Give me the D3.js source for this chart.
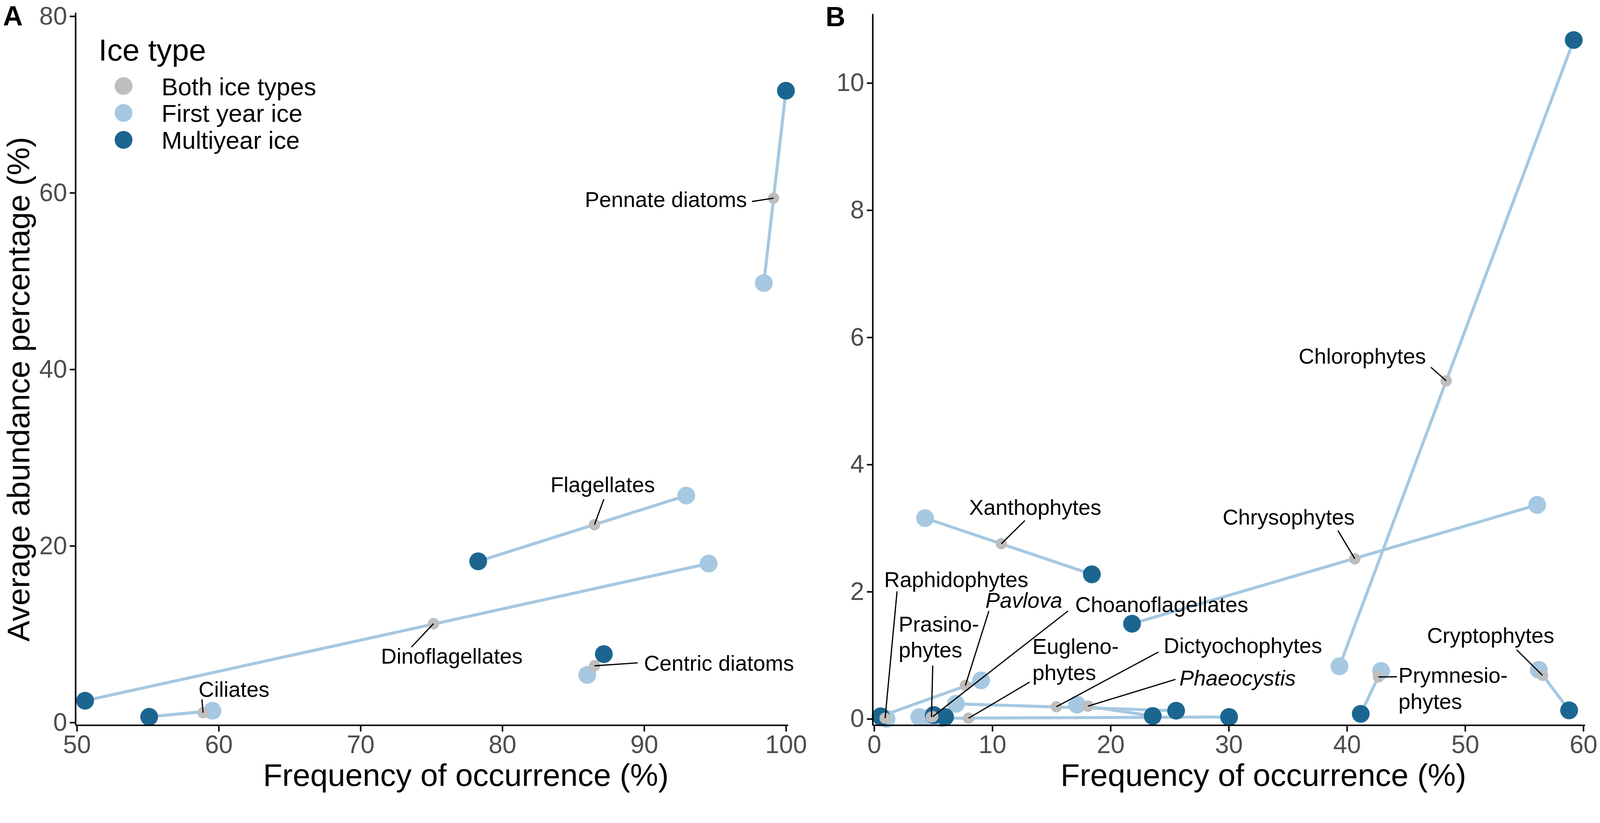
<!DOCTYPE html>
<html>
<head>
<meta charset="utf-8">
<script src="https://cdn.jsdelivr.net/npm/d3@7"></script>
<style>
html, body { margin: 0; padding: 0; width: 100%; height: 100%; overflow: hidden; background: #fff; }
svg { display: block; }
text { font-family: "Liberation Sans", Arial, Helvetica, sans-serif; }
</style>
</head>
<body>
<svg viewBox="0 0 4221 2107" preserveAspectRatio="xMinYMin meet" width="100%" height="100%"></svg>
<script>
// legend
const iceTypes = ["Both ice types", "First year ice", "Multiyear ice"];
const iceColors = ["#BEBEBE", "#A6C8E1", "#1B6690"];

// panel A : frequency of occurrence (%) / average abundance (%)
const groupsA  = ["Pennate diatoms", "Flagellates", "Dinoflagellates", "Centric diatoms", "Ciliates"];
const fyiFreqA = [98.44, 92.97, 94.55, 85.99, 59.56];
const fyiAbunA = [49.77, 25.70, 18.00,  5.38,  1.33];
const myiFreqA = [100.0, 78.30, 50.58, 87.16, 55.10];
const myiAbunA = [71.56, 18.25,  2.46,  7.74,  0.64];
const bothFreqA = [99.13, 86.50, 75.15, 86.50, 58.90];
const bothAbunA = [59.39, 22.40, 11.19,  6.42,  1.10];

// panel B
const groupsB  = ["Raphidophytes", "Prasinophytes", "Pavlova", "Choanoflagellates", "Euglenophytes",
                  "Dictyochophytes", "Phaeocystis", "Xanthophytes", "Chrysophytes", "Chlorophytes",
                  "Cryptophytes", "Prymnesiophytes"];
const fyiFreqB = [1.05, 3.82, 9.05, 4.70, 5.70, 6.92, 17.17, 4.31, 56.10, 39.37, 56.23, 42.89];
const fyiAbunB = [0.00, 0.03, 0.605, 0.02, 0.01, 0.237, 0.223, 3.157, 3.365, 0.826, 0.772, 0.753];
const myiFreqB = [0.60, 6.00, 0.55, 5.05, 30.03, 25.55, 23.57, 18.42, 21.82, 59.19, 58.80, 41.17];
const myiAbunB = [0.03, 0.03, 0.04, 0.06, 0.03, 0.128, 0.045, 2.273, 1.496, 10.675, 0.134, 0.079];
const bothFreqB = [0.93, 4.85, 7.72, 4.95, 7.99, 15.42, 18.10, 10.76, 40.67, 48.40, 56.55, 42.67];
const bothAbunB = [0.01, 0.03, 0.525, 0.035, 0.01, 0.19, 0.20, 2.754, 2.517, 5.316, 0.684, 0.659];

// axis ticks
const xTicksA = [50, 60, 70, 80, 90, 100];
const yTicksA = [0, 20, 40, 60, 80];
const xTicksB = [0, 10, 20, 30, 40, 50, 60];
const yTicksB = [0, 2, 4, 6, 8, 10];

// label placement (data units): text anchor point, leader start
const labelsA = [
  {name: "Pennate diatoms", lines: ["Pennate diatoms"], x: 97.25, y: 58.39, anchor: "end",    sx: 97.61, sy: 59.01},
  {name: "Flagellates",     lines: ["Flagellates"],     x: 87.08, y: 26.08, anchor: "middle", sx: 87.16, sy: 25.29},
  {name: "Dinoflagellates", lines: ["Dinoflagellates"], x: 76.44, y: 6.655, anchor: "middle", sx: 73.59, sy: 8.53},
  {name: "Centric diatoms", lines: ["Centric diatoms"], x: 89.99, y: 5.87,  anchor: "start",  sx: 89.55, sy: 6.75},
  {name: "Ciliates",        lines: ["Ciliates"],        x: 61.08, y: 2.91,  anchor: "middle", sx: 58.82, sy: 2.62}
];
const labelsB = [
  {name: "Xanthophytes",      lines: ["Xanthophytes"],      x: 13.63, y: 3.209, anchor: "middle", sx: 12.75, sy: 3.118},
  {name: "Raphidophytes",     lines: ["Raphidophytes"],     x: 6.95,  y: 2.075, anchor: "middle", sx: 1.94,  sy: 2.005},
  {name: "Pavlova",           lines: ["Pavlova"],           x: 12.67, y: 1.749, anchor: "middle", sx: 9.71,  sy: 1.697, italic: true},
  {name: "Choanoflagellates", lines: ["Choanoflagellates"], x: 24.33, y: 1.678, anchor: "middle", sx: 16.41, sy: 1.697},
  {name: "Chrysophytes",      lines: ["Chrysophytes"],      x: 35.07, y: 3.056, anchor: "middle", sx: 39.24, sy: 2.961},
  {name: "Chlorophytes",      lines: ["Chlorophytes"],      x: 41.30, y: 5.587, anchor: "middle", sx: 47.10, sy: 5.53},
  {name: "Dictyochophytes",   lines: ["Dictyochophytes"],   x: 31.20, y: 1.032, anchor: "middle", sx: 24.05, sy: 1.051},
  {name: "Phaeocystis",       lines: ["Phaeocystis"],       x: 30.75, y: 0.526, anchor: "middle", sx: 25.50, sy: 0.621, italic: true},
  {name: "Cryptophytes",      lines: ["Cryptophytes"],      x: 52.16, y: 1.195, anchor: "middle", sx: 54.36, sy: 1.086},
  {name: "Prymnesiophytes",   lines: ["Prymnesio-", "phytes"], x: 44.36, y: 0.566, anchor: "start", sx: 44.23, sy: 0.662},
  {name: "Prasinophytes",     lines: ["Prasino-", "phytes"],   x: 2.07,  y: 1.375, anchor: "start", sx: 4.96,  sy: 0.839},
  {name: "Euglenophytes",     lines: ["Eugleno-", "phytes"],   x: 13.39, y: 1.022, anchor: "start", sx: 13.15, sy: 0.577}
];

const svg = d3.select("svg");
const tickColor = "#4D4D4D";

function buildRows(groups, ff, fa, mf, ma, bf, ba) {
  return groups.map((g, i) => ({name: g, fyi: [ff[i], fa[i]], myi: [mf[i], ma[i]], both: [bf[i], ba[i]]}));
}

function drawPanel(rows, labels, xs, ys, xTicks, yTicks) {
  const g = svg.append("g");

  // connecting lines FYI -> MYI
  g.append("g").selectAll("line")
    .data(rows).enter().append("line")
    .attr("x1", d => xs(d.fyi[0])).attr("y1", d => ys(d.fyi[1]))
    .attr("x2", d => xs(d.myi[0])).attr("y2", d => ys(d.myi[1]))
    .attr("stroke", iceColors[1])
    .attr("stroke-width", 8);

  g.append("g").selectAll("circle")
    .data(rows).enter().append("circle")
    .attr("cx", d => xs(d.fyi[0])).attr("cy", d => ys(d.fyi[1]))
    .attr("r", 23.5).attr("fill", iceColors[1]);

  g.append("g").selectAll("circle")
    .data(rows).enter().append("circle")
    .attr("cx", d => xs(d.myi[0])).attr("cy", d => ys(d.myi[1]))
    .attr("r", 23.5).attr("fill", iceColors[2]);

  g.append("g").selectAll("circle")
    .data(rows).enter().append("circle")
    .attr("cx", d => xs(d.both[0])).attr("cy", d => ys(d.both[1]))
    .attr("r", 15).attr("fill", iceColors[0]);

  // leader segments to the "both" point
  const byName = {};
  rows.forEach(r => byName[r.name] = r);
  g.append("g").selectAll("line")
    .data(labels).enter().append("line")
    .attr("x1", d => xs(d.sx)).attr("y1", d => ys(d.sy))
    .attr("x2", d => xs(byName[d.name].both[0])).attr("y2", d => ys(byName[d.name].both[1]))
    .attr("stroke", "#000").attr("stroke-width", 3.2);

  const lab = g.append("g").selectAll("text")
    .data(labels).enter().append("text")
    .attr("x", d => xs(d.x)).attr("y", d => ys(d.y))
    .attr("text-anchor", d => d.anchor)
    .attr("font-size", 57)
    .attr("font-style", d => d.italic ? "italic" : "normal")
    .attr("fill", "#000");
  lab.selectAll("tspan")
    .data(d => d.lines.map((t, i) => ({t: t, i: i, x: xs(d.x)})))
    .enter().append("tspan")
    .attr("x", d => d.x)
    .attr("dy", d => d.i === 0 ? 0 : 69)
    .text(d => d.t);

  // axes
  const ax = g.append("g")
    .attr("transform", "translate(0," + ys.range()[0] + ")")
    .call(d3.axisBottom(xs).tickValues(xTicks).tickSize(17).tickSizeOuter(0).tickPadding(10));
  const ay = g.append("g")
    .attr("transform", "translate(" + xs.range()[0] + ",0)")
    .call(d3.axisLeft(ys).tickValues(yTicks).tickSize(15).tickSizeOuter(0).tickPadding(7));
  [ax, ay].forEach(a => {
    a.select(".domain").attr("stroke", "#000").attr("stroke-width", 4);
    a.selectAll(".tick line").attr("stroke", "#000").attr("stroke-width", 4);
    a.selectAll(".tick text").attr("fill", tickColor).attr("font-size", 66)
      .attr("font-family", "'Liberation Sans', Arial, sans-serif");
  });
}

const rowsA = buildRows(groupsA, fyiFreqA, fyiAbunA, myiFreqA, myiAbunA, bothFreqA, bothAbunA);
const rowsB = buildRows(groupsB, fyiFreqB, fyiAbunB, myiFreqB, myiAbunB, bothFreqB, bothAbunB);

const xA = d3.scaleLinear().domain([49.9, 100.15]).range([199, 2079]);
const yA = d3.scaleLinear().domain([-0.3, 80.42]).range([1913, 33]);
const xB = d3.scaleLinear().domain([-0.13, 60.13]).range([2302, 4181]);
const yB = d3.scaleLinear().domain([-0.098, 11.09]).range([1913, 36]);

drawPanel(rowsA, labelsA, xA, yA, xTicksA, yTicksA);
drawPanel(rowsB, labelsB, xB, yB, xTicksB, yTicksB);

// axis titles
svg.append("text").attr("x", 1229).attr("y", 2073).attr("text-anchor", "middle")
  .attr("font-size", 83).text("Frequency of occurrence (%)");
svg.append("text").attr("x", 3333).attr("y", 2073).attr("text-anchor", "middle")
  .attr("font-size", 83).text("Frequency of occurrence (%)");
svg.append("text").attr("transform", "translate(77,1027) rotate(-90)").attr("text-anchor", "middle")
  .attr("font-size", 83).text("Average abundance percentage (%)");

// panel tags
svg.append("text").attr("x", 8).attr("y", 67).attr("font-size", 72).attr("font-weight", "bold").text("A");
svg.append("text").attr("x", 2178).attr("y", 69).attr("font-size", 72).attr("font-weight", "bold").text("B");

// legend
const legend = svg.append("g");
legend.append("text").attr("x", 260).attr("y", 160).attr("font-size", 81).text("Ice type");
const item = legend.selectAll("g.item").data(iceTypes).enter().append("g").attr("class", "item")
  .attr("transform", (d, i) => "translate(0," + (227 + i * 71) + ")");
item.append("circle").attr("cx", 326).attr("cy", 0).attr("r", 23.5).attr("fill", (d, i) => iceColors[i]);
item.append("text").attr("x", 426).attr("y", 24).attr("font-size", 65).text(d => d);
</script>
</body>
</html>
